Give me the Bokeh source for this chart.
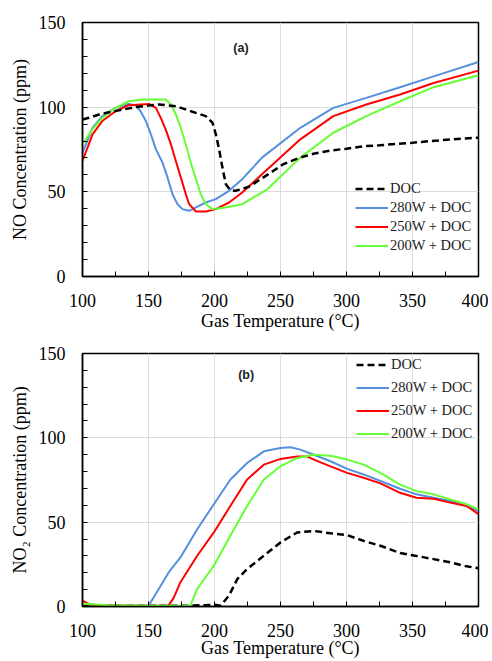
from bokeh.plotting import figure
from bokeh.layouts import column
from bokeh.models import FixedTicker, Legend, LegendItem, Label
from bokeh.embed import file_html
from bokeh.resources import INLINE

# ---------------- (a) NO concentration ----------------
a_doc_t = [100, 105, 112, 120, 130, 140, 150, 158, 170.7, 183.3, 193.4, 198.5, 201, 203.5, 206, 208.6, 212, 216,
           226, 240, 252, 264, 275, 289, 300, 314, 325, 339, 350, 364, 380, 400]
a_doc_v = [92.7, 93.7, 95.5, 97, 98.5, 100, 101, 101.6, 100.6, 97.3, 94.7, 90.8, 84, 75.1, 64.3, 54.5, 51, 50.6,
           53, 60, 66.3, 70, 72.5, 74.5, 75.5, 77, 77.5, 78.4, 79, 80, 81, 82]

a_280_t = [100, 107.6, 115, 125, 135, 140, 144, 148, 151.8, 155.6, 160.6, 164.4, 168.2, 172, 175.8, 180.8, 185.9,
           193.4, 201, 211, 221, 236, 265, 290, 315, 340.6, 366, 400]
a_280_v = [73, 87.8, 94.7, 99.6, 101.9, 101.2, 97.6, 91.8, 84, 75.1, 67.3, 58.5, 48.6, 42.7, 39.8, 38.8, 40.8,
           43.7, 45.7, 50.6, 57.5, 70.2, 87.8, 99.6, 105.5, 111.8, 118.2, 126.7]

a_250_t = [100, 107.6, 115, 125, 135, 150.5, 155.6, 159.3, 163, 167, 170.7, 174.5, 178.3, 180.8, 185.9, 193.4, 201,
           211, 221, 236, 265, 290, 315, 340.6, 366, 400]
a_250_v = [68.2, 83.9, 91.8, 97.6, 101.2, 101.9, 99.6, 93.7, 86.9, 78, 68.2, 58.4, 48.6, 42.7, 38.4, 38.4, 39.8,
           43.7, 49.6, 60.4, 81, 94.7, 101.6, 107.5, 114.3, 121.6]

a_200_t = [100, 107.6, 115, 125, 135, 145.5, 163, 167, 170.7, 174.5, 178.3, 182, 186, 189.6, 193.4, 198.5, 206,
           221, 240, 265, 290, 315, 340.6, 366, 400]
a_200_v = [78, 86.9, 93.7, 99.6, 103.5, 104.5, 104.5, 101.6, 95.7, 87.8, 78, 67.3, 57.5, 48.6, 42.7, 39.8, 40.4,
           42.7, 51.5, 70.2, 84.9, 94.7, 103.5, 111.8, 118.8]

# ---------------- (b) NO2 concentration ----------------
b_doc_t = [100, 150, 180, 200, 204.6, 211, 217.3, 224.7, 237.4, 250, 262.6, 275.3, 287.9, 300.5, 313, 325.7, 340.6,
           353, 366, 378.5, 391, 400]
b_doc_v = [0.5, 0.5, 0.5, 1, 0.5, 6.5, 16.3, 22.2, 30.1, 38, 43.9, 44.8, 43.4, 42.3, 38.9, 36, 31.7, 30, 28.1,
           26.2, 23.8, 22.7]

b_280_t = [100, 110, 130, 150, 151, 159, 166, 174.2, 186.9, 199.5, 212.1, 224.7, 237.4, 250, 257.6, 265, 275.3,
           287.9, 300.5, 313, 325.7, 340.6, 353, 366, 378.5, 391, 400]
b_280_v = [2, 1, 0.5, 0.5, 1.6, 12, 21, 29.1, 45.8, 60.6, 75.3, 85.1, 92, 94, 94.4, 93, 90, 86.1, 81.6, 78.3, 74.4,
           69.8, 66.5, 64.5, 62.5, 59.6, 56.6]

b_250_t = [100, 105.8, 130, 165, 169, 174.2, 186.9, 199.5, 212, 224.7, 237.4, 250, 262.6, 270.2, 275.3, 287.9,
           300.5, 313, 325.7, 340.6, 353, 366, 378.5, 391, 400]
b_250_v = [3.5, 1, 0.5, 0.5, 5, 14.4, 30.1, 43.9, 59.6, 75.3, 84.1, 87.5, 89, 89, 87.1, 83.1, 79.2, 76.3, 73,
           67.4, 64.5, 63.9, 61.6, 59.6, 54.7]

b_200_t = [100, 120, 150, 178, 181.8, 186.9, 199.5, 212, 224.7, 237.4, 250, 262.6, 275.3, 287.9, 300.5, 313, 325.7,
           340.6, 353, 366, 378.5, 391, 400]
b_200_v = [1.6, 0.8, 0.5, 0.5, 0.6, 10.4, 24.2, 41.9, 59.6, 75.3, 83.1, 88.1, 90, 89.4, 87.1, 84.1, 79.2, 72.3,
           68.4, 66.5, 63.5, 60.6, 57.6]

x_ticks = [100, 150, 200, 250, 300, 350, 400]
x_minor = [125, 175, 225, 275, 325, 375]
y_ticks = [0, 50, 100, 150]
y_minor = [10, 20, 30, 40, 60, 70, 80, 90, 110, 120, 130, 140]
series_names = ["DOC", "280W + DOC", "250W + DOC", "200W + DOC"]

SERIF = "Liberation Serif"
C_BLUE = "#5590DD"
C_RED = "#FF0000"
C_GREEN = "#66FF33"


def make_fig(h, top, bottom, ylabel, tag, tag_xy, legend_loc, row_h, curves, doc_last, x_lab_standoff):
    p = figure(width=488, height=h, x_range=(100, 400), y_range=(0, 150),
               output_backend="svg", toolbar_location=None,
               min_border_left=82, min_border_right=10,
               min_border_top=top, min_border_bottom=bottom)
    p.background_fill_color = "white"
    p.border_fill_color = "white"
    p.outline_line_color = "black"
    p.outline_line_width = 1.5
    p.xaxis.ticker = FixedTicker(ticks=x_ticks, minor_ticks=x_minor)
    p.yaxis.ticker = FixedTicker(ticks=y_ticks, minor_ticks=y_minor)
    for ax in p.axis:
        ax.major_label_text_font = SERIF
        ax.major_label_text_font_size = "18px"
        ax.major_label_text_color = "black"
        ax.axis_label_text_font = SERIF
        ax.axis_label_text_font_size = "18px"
        ax.axis_label_text_font_style = "normal"
        ax.axis_label_text_color = "black"
        ax.axis_line_color = "black"
        ax.axis_line_width = 1.5
        ax.major_tick_in = 5
        ax.major_tick_out = 0
        ax.minor_tick_in = 5
        ax.minor_tick_out = 0
        ax.major_tick_line_color = "black"
        ax.minor_tick_line_color = "black"
    p.xaxis.axis_label = "Gas Temperature (°C)"
    p.yaxis.axis_label = ylabel
    p.xaxis.major_label_standoff = 17
    p.xaxis.axis_label_standoff = x_lab_standoff
    p.yaxis.major_label_standoff = 17
    p.yaxis.axis_label_standoff = 6
    p.xgrid.grid_line_color = "#dcdcdc"
    p.ygrid.grid_line_color = "#dcdcdc"

    (dt, dv), (t1, v1), (t2, v2), (t3, v3) = curves
    renderers = {}
    if not doc_last:
        renderers["doc"] = p.line(dt, dv, line_color="black", line_width=2.5, line_dash="7 4")
    renderers["280"] = p.line(t1, v1, line_color=C_BLUE, line_width=2)
    renderers["250"] = p.line(t2, v2, line_color=C_RED, line_width=2)
    renderers["200"] = p.line(t3, v3, line_color=C_GREEN, line_width=2)
    if doc_last:
        renderers["doc"] = p.line(dt, dv, line_color="black", line_width=2.5, line_dash="7 4")

    items = [LegendItem(label=series_names[0], renderers=[renderers["doc"]]),
             LegendItem(label=series_names[1], renderers=[renderers["280"]]),
             LegendItem(label=series_names[2], renderers=[renderers["250"]]),
             LegendItem(label=series_names[3], renderers=[renderers["200"]])]
    leg = Legend(items=items, location=legend_loc,
                 label_text_font=SERIF, label_text_font_size="14.5px", label_text_color="#222222",
                 glyph_width=33, glyph_height=row_h, label_height=row_h, spacing=0,
                 padding=0, margin=0, label_standoff=2,
                 background_fill_alpha=0, border_line_alpha=0)
    p.add_layout(leg)

    p.add_layout(Label(x=tag_xy[0], y=tag_xy[1], text=tag, text_font="Liberation Sans",
                       text_font_style="bold", text_font_size="12.5px", text_color="#222222",
                       text_align="center", text_baseline="middle"))
    return p


p1 = make_fig(334, 22, 58, "NO Concentration (ppm)", "(a)", (220, 135), (273, 21), 19,
              [(a_doc_t, a_doc_v), (a_280_t, a_280_v), (a_250_t, a_250_v), (a_200_t, a_200_v)], True, 1)
p2 = make_fig(327, 19, 55, "NO₂ Concentration (ppm)", "(b)", (224, 137), (274, 161), 23,
              [(b_doc_t, b_doc_v), (b_280_t, b_280_v), (b_250_t, b_250_v), (b_200_t, b_200_v)], False, -2)

layout = column(p1, p2, spacing=0)
open("out.html", "w").write(file_html(layout, INLINE))
